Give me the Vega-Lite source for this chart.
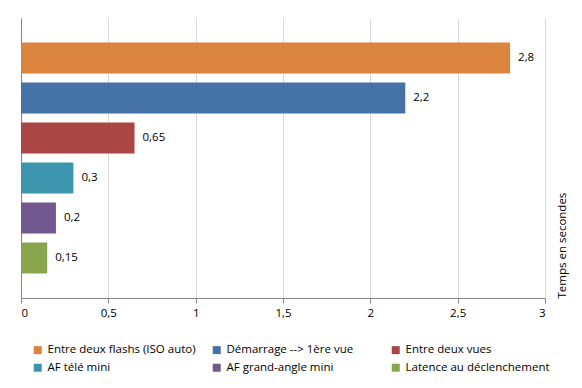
{
  "$schema": "https://vega.github.io/schema/vega-lite/v6.json",
  "width": 524,
  "height": 280,
  "autosize": {"type": "none"},
  "padding": {"left": 21, "top": 18, "right": 37, "bottom": 90},
  "background": "white",
  "config": {
    "locale": {"number": {"decimal": ",", "thousands": " ", "grouping": [3], "currency": ["", " €"]}},
    "font": "Open Sans",
    "view": {"stroke": null},
    "axis": {"labelFont": "Open Sans", "titleFont": "Open Sans"},
    "legend": {"labelFont": "Open Sans"}
  },
  "data": {
    "values": [
      {"mesure": "Entre deux flashs (ISO auto)", "temps": 2.8},
      {"mesure": "Démarrage --> 1ère vue", "temps": 2.2},
      {"mesure": "Entre deux vues", "temps": 0.65},
      {"mesure": "AF télé mini", "temps": 0.3},
      {"mesure": "AF grand-angle mini", "temps": 0.2},
      {"mesure": "Latence au déclenchement", "temps": 0.15}
    ]
  },
  "encoding": {
    "y": {
      "field": "mesure",
      "type": "nominal",
      "sort": null,
      "scale": {"paddingInner": 0.225, "paddingOuter": 0.6125}
    },
    "x": {
      "field": "temps",
      "type": "quantitative",
      "scale": {"domain": [0, 3], "nice": false},
      "axis": {
        "title": null,
        "values": [0, 0.5, 1, 1.5, 2, 2.5, 3],
        "format": "~g",
        "labelFontSize": 11.5,
        "labelColor": "#000000",
        "labelPadding": 4,
        "tickSize": 5,
        "tickColor": "#868686",
        "domainColor": "#868686",
        "gridColor": "#D9D9D9",
        "grid": true
      }
    }
  },
  "layer": [
    {
      "mark": {"type": "bar"},
      "encoding": {
        "color": {
          "field": "mesure",
          "type": "nominal",
          "sort": null,
          "scale": {"range": ["#DB843D", "#4572A7", "#AA4643", "#3D96AE", "#71588F", "#89A54E"]},
          "legend": {
            "title": null,
            "orient": "none",
            "legendX": 11,
            "legendY": 326,
            "direction": "horizontal",
            "columns": 3,
            "gridAlign": "all",
            "columnPadding": 15,
            "rowPadding": 5,
            "symbolType": "square",
            "symbolSize": 64,
            "symbolStrokeWidth": 0,
            "labelFontSize": 11.5,
            "labelColor": "#000000",
            "labelOffset": 4
          }
        },
        "y": {
          "field": "mesure",
          "type": "nominal",
          "sort": null,
          "axis": {"title": null, "labels": false, "ticks": false, "domain": true, "domainColor": "#868686", "grid": false}
        }
      }
    },
    {
      "mark": {"type": "text", "align": "left", "baseline": "middle", "dx": 8, "fontSize": 11.5, "color": "#000000"},
      "encoding": {
        "text": {"field": "temps", "type": "quantitative", "format": "~g"},
        "y": {
          "field": "mesure",
          "type": "nominal",
          "sort": null,
          "axis": {"orient": "right", "title": "Temps en secondes", "titleAngle": 270, "titleAnchor": "end", "titleAlign": "left", "titleFontSize": 11.5, "titleFontWeight": "normal", "titleColor": "#000000", "titlePadding": 22, "labels": false, "ticks": false, "domain": false, "grid": false}
        }
      }
    }
  ],
  "resolve": {"axis": {"y": "independent"}}
}
